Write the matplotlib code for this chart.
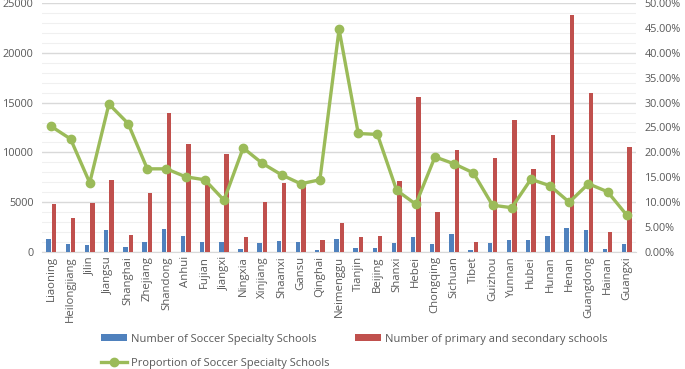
import matplotlib.pyplot as plt
import numpy as np
from matplotlib.ticker import MultipleLocator, FuncFormatter

provincias = ['Liaoning', 'Heilongjiang', 'Jilin', 'Jiangsu', 'Shanghai', 'Zhejiang',
              'Shandong', 'Anhui', 'Fujian', 'Jiangxi', 'Ningxia', 'Xinjiang', 'Shaanxi',
              'Gansu', 'Qinghai', 'Neimenggu', 'Tianjin', 'Beijing', 'Shanxi', 'Hebei',
              'Chongqing', 'Sichuan', 'Tibet', 'Guizhou', 'Yunnan', 'Hubei', 'Hunan',
              'Henan', 'Guangdong', 'Hainan', 'Guangxi']

escolas_futebol = [1275, 800, 700, 2180, 470, 1000, 2340, 1640, 1000, 1000, 300, 900, 1100,
                   970, 200, 1340, 370, 400, 870, 1500, 770, 1810, 200, 900, 1235, 1235,
                   1575, 2380, 2240, 300, 800]

escolas_total = [4850, 3380, 4950, 7230, 1680, 5950, 13920, 10810, 6900, 9840, 1500, 5050,
                 6930, 6830, 1170, 2910, 1500, 1600, 7100, 15530, 4020, 10210, 1000, 9440,
                 13280, 8330, 11780, 23830, 15960, 2010, 10540]

proporcao = [25.2, 22.7, 13.9, 29.7, 25.8, 16.7, 16.7, 15.1, 14.5, 10.4, 20.9, 17.8, 15.5,
             13.7, 14.5, 44.7, 23.8, 23.6, 12.4, 9.6, 19.1, 17.7, 15.9, 9.4, 8.9, 14.6,
             13.3, 10.0, 13.7, 12.1, 7.4]

plt.rcParams['font.family'] = ['Open Sans', 'DejaVu Sans']
cinza = '#595959'
fs = 8.2
fs_y = 7.8
fs_leg = 8.0

fig = plt.figure(figsize=(6.85, 3.69), dpi=100)
ax = fig.add_axes([0.061, 0.317, 0.868, 0.675])
x = np.arange(len(provincias))

b1 = ax.bar(x - 0.14, escolas_futebol, width=0.23, color='#4F81BD', zorder=3)
b2 = ax.bar(x + 0.14, escolas_total, width=0.23, color='#C0504D', zorder=3)

ax.set_xlim(-0.5, len(provincias) - 0.5)
ax.set_ylim(0, 25000)
ax.yaxis.set_major_locator(MultipleLocator(5000))
ax.yaxis.set_minor_locator(MultipleLocator(1000))
ax.grid(axis='y', which='major', color='#D9D9D9', linewidth=1, zorder=0)
ax.grid(axis='y', which='minor', color='#F0F0F0', linewidth=0.8, zorder=0)
ax.set_xticks(x)
ax.set_xticklabels(provincias, rotation=90, fontsize=fs, color=cinza)
ax.tick_params(axis='y', which='both', length=0, labelsize=fs_y, labelcolor=cinza, pad=6)
ax.tick_params(axis='x', length=0, pad=3)
for s in ['top', 'left', 'right']:
    ax.spines[s].set_visible(False)
ax.spines['bottom'].set_color('#D9D9D9')

ax2 = ax.twinx()
l1, = ax2.plot(x, proporcao, color='#9BBB59', linewidth=2.4, marker='o', markersize=6,
               zorder=4)
ax2.set_ylim(0, 50)
ax2.yaxis.set_major_locator(MultipleLocator(5))
ax2.yaxis.set_major_formatter(FuncFormatter(lambda v, p: '%.2f%%' % v))
ax2.tick_params(axis='y', length=0, labelsize=fs_y, labelcolor=cinza, pad=6)
for s in ['top', 'left', 'right', 'bottom']:
    ax2.spines[s].set_visible(False)

# legenda em duas partes, como no Excel
leg1 = fig.legend([b1, b2],
                  ['Number of Soccer Specialty Schools', 'Number of primary and secondary schools'],
                  loc='center left', bbox_to_anchor=(0.148, 0.081), ncol=2, frameon=False,
                  fontsize=fs_leg, labelcolor=cinza, handlelength=2.35, handleheight=0.5,
                  handletextpad=0.35, columnspacing=3.4, borderpad=0, borderaxespad=0)
leg2 = fig.legend([l1], ['Proportion of Soccer Specialty Schools'],
                  loc='center left', bbox_to_anchor=(0.148, 0.016), frameon=False,
                  fontsize=fs_leg, labelcolor=cinza, handlelength=2.35,
                  handletextpad=0.35, borderpad=0, borderaxespad=0)

fig.savefig('out.png', dpi=100)
